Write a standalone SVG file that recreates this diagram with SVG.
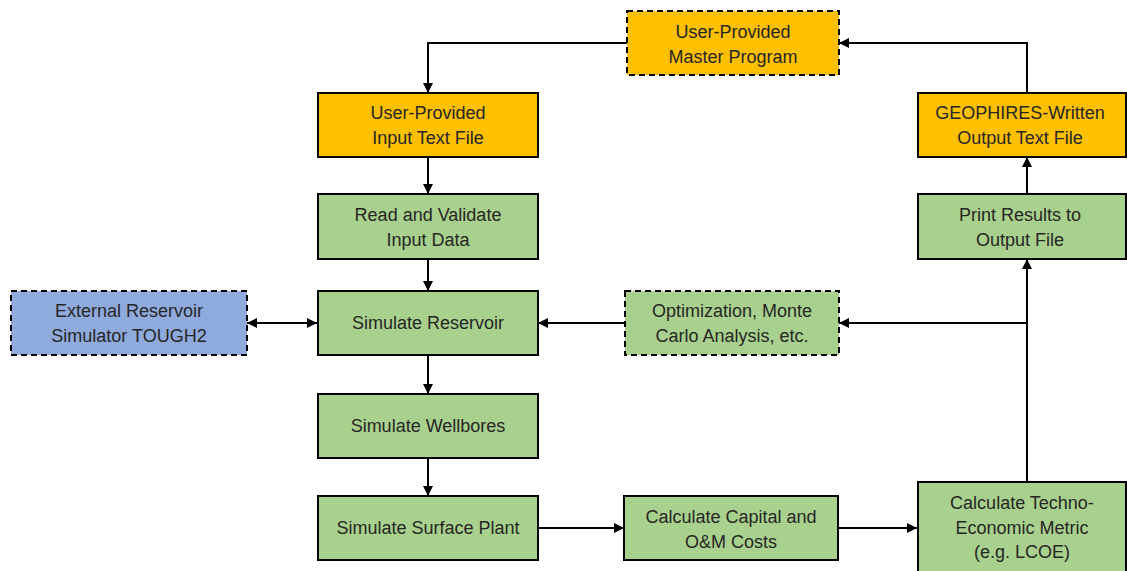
<svg xmlns="http://www.w3.org/2000/svg" width="1127" height="571" viewBox="0 0 1127 571">
<style>
.box{stroke:#000;stroke-width:2}
.dash{stroke-dasharray:6 4}
.or{fill:#FFC000}
.gr{fill:#A9D18E}
.bl{fill:#8FAADC}
text{font-family:"Liberation Sans",Arial,sans-serif;font-size:18px;fill:#262626;text-anchor:middle}
.ln{fill:none;stroke:#000;stroke-width:2}
</style>
<defs>
<marker id="ah" viewBox="0 0 10 10" refX="10" refY="5" markerWidth="5" markerHeight="5" orient="auto-start-reverse" markerUnits="strokeWidth">
<path d="M0,0 L10,5 L0,10 z" fill="#000"/>
</marker>
</defs>
<rect width="1127" height="571" fill="#fff"/>
<g id="connectors">
<path class="ln" d="M627,43 H428 V93" marker-end="url(#ah)"/>
<path class="ln" d="M1027,93 V43 H839" marker-end="url(#ah)"/>
<path class="ln" d="M428,158 V194" marker-end="url(#ah)"/>
<path class="ln" d="M428,259 V291" marker-end="url(#ah)"/>
<path class="ln" d="M247,323 H317" marker-start="url(#ah)" marker-end="url(#ah)"/>
<path class="ln" d="M625,323 H538" marker-end="url(#ah)"/>
<path class="ln" d="M1027,482 V259" marker-end="url(#ah)"/>
<path class="ln" d="M1027,323 H839" marker-end="url(#ah)"/>
<path class="ln" d="M1027,194 V157" marker-end="url(#ah)"/>
<path class="ln" d="M428,355 V394" marker-end="url(#ah)"/>
<path class="ln" d="M428,458 V496" marker-end="url(#ah)"/>
<path class="ln" d="M538,528 H624" marker-end="url(#ah)"/>
<path class="ln" d="M838,528 H917" marker-end="url(#ah)"/>
</g>
<g id="master">
<rect class="box or dash" x="627" y="11" width="212" height="64"/>
<text x="733" y="38">User-Provided</text>
<text x="733" y="63">Master Program</text>
</g>
<g id="input">
<rect class="box or" x="318" y="93" width="220" height="64"/>
<text x="428" y="119">User-Provided</text>
<text x="428" y="144">Input Text File</text>
</g>
<g id="output">
<rect class="box or" x="918" y="93" width="208" height="64"/>
<text x="1020" y="119">GEOPHIRES-Written</text>
<text x="1020" y="144">Output Text File</text>
</g>
<g id="read">
<rect class="box gr" x="318" y="194" width="220" height="65"/>
<text x="428" y="221">Read and Validate</text>
<text x="428" y="246">Input Data</text>
</g>
<g id="print">
<rect class="box gr" x="918" y="194" width="208" height="65"/>
<text x="1020" y="221">Print Results to</text>
<text x="1020" y="246">Output File</text>
</g>
<g id="external">
<rect class="box bl dash" x="11" y="291" width="236" height="64"/>
<text x="129" y="317">External Reservoir</text>
<text x="129" y="342">Simulator TOUGH2</text>
</g>
<g id="reservoir">
<rect class="box gr" x="318" y="291" width="220" height="64"/>
<text x="428" y="329">Simulate Reservoir</text>
</g>
<g id="optimization">
<rect class="box gr dash" x="625" y="291" width="214" height="64"/>
<text x="732" y="317">Optimization, Monte</text>
<text x="732" y="342">Carlo Analysis, etc.</text>
</g>
<g id="wellbores">
<rect class="box gr" x="318" y="394" width="220" height="64"/>
<text x="428" y="432">Simulate Wellbores</text>
</g>
<g id="surface">
<rect class="box gr" x="318" y="496" width="220" height="64"/>
<text x="428" y="534">Simulate Surface Plant</text>
</g>
<g id="costs">
<rect class="box gr" x="624" y="496" width="214" height="64"/>
<text x="731" y="523">Calculate Capital and</text>
<text x="731" y="548">O&amp;M Costs</text>
</g>
<g id="metric">
<rect class="box gr" x="918" y="482" width="208" height="95"/>
<text x="1022" y="509">Calculate Techno-</text>
<text x="1022" y="534">Economic Metric</text>
<text x="1022" y="558">(e.g. LCOE)</text>
</g>
</svg>
